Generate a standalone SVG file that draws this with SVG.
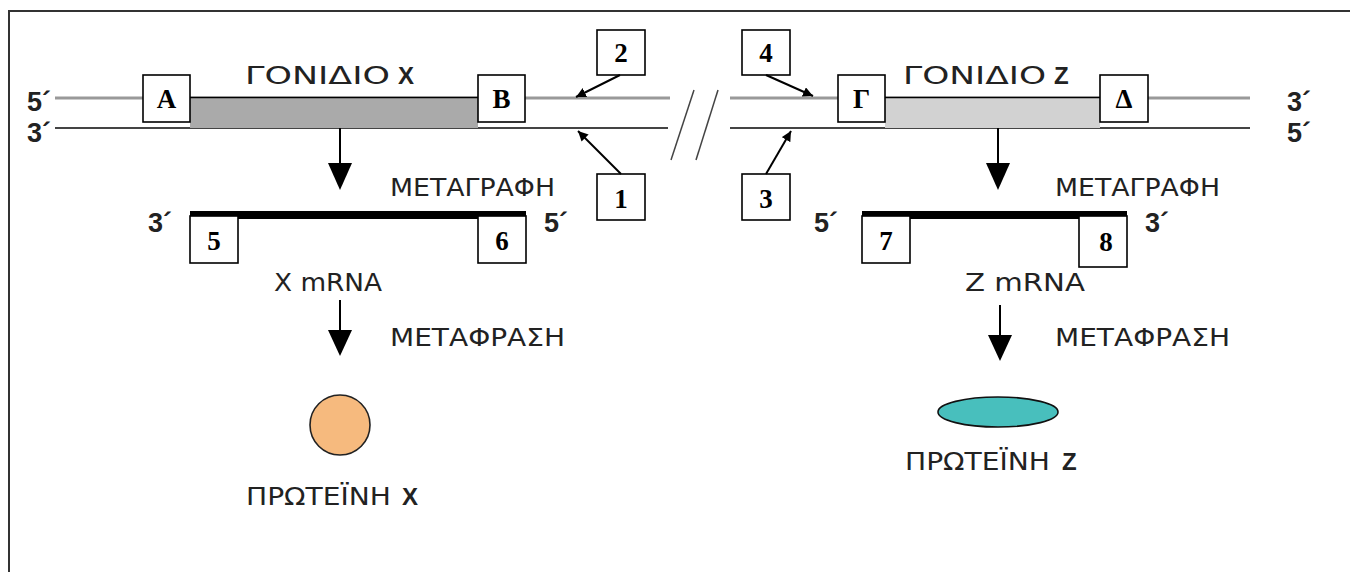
<svg xmlns="http://www.w3.org/2000/svg" width="1350" height="572" viewBox="0 0 1350 572">
  <defs>
    <marker id="tip" viewBox="0 0 10 10" refX="10" refY="5" markerWidth="10" markerHeight="10" markerUnits="userSpaceOnUse" orient="auto">
      <path d="M0,0 L10,5 L0,10 z" fill="#000"/>
    </marker>
  </defs>
  <style>
    .frame { fill: none; stroke: #333; stroke-width: 2; }
    .s5 { stroke: #999; stroke-width: 3; }
    .s3 { stroke: #444; stroke-width: 2; }
    .box { fill: #fff; stroke: #000; stroke-width: 1.6; }
    .lbl { font-family: "Liberation Serif", serif; font-weight: bold; font-size: 27px; fill: #000; text-anchor: middle; }
    .end { font-family: "Liberation Sans", sans-serif; font-weight: bold; font-size: 27px; fill: #222; }
    .gr { font-family: "DejaVu Sans", sans-serif; font-size: 24px; fill: #222; }
    .grb { font-family: "Liberation Sans", sans-serif; font-weight: bold; font-size: 24px; fill: #222; }
    .ptr { stroke: #000; stroke-width: 2; fill: none; marker-end: url(#tip); }
    .down { stroke: #000; stroke-width: 2; }
    .head { fill: #000; }
    .mrna { fill: #000; }
  </style>

  <!-- outer frame -->
  <path class="frame" d="M9,572 V11 H1350"/>

  <!-- left DNA segment: gene X -->
  <g id="dna-left">
    <line class="s5" x1="55" y1="98" x2="670" y2="98"/>
    <line class="s3" x1="55" y1="128" x2="668" y2="128"/>
    <text class="end" x="27" y="111">5´</text>
    <text class="end" x="27" y="142">3´</text>
  </g>
  <g id="gene-x">
    <rect x="190" y="98" width="288" height="30" fill="#aaa"/>
    <line x1="190" y1="97.5" x2="478" y2="97.5" stroke="#000" stroke-width="1.5"/>
    <text x="245" y="84" class="gr" font-size="25" textLength="145" lengthAdjust="spacingAndGlyphs">ΓΟΝΙΔΙΟ</text>
    <text x="398" y="84" class="grb">X</text>
  </g>
  <g id="box-A">
    <rect class="box" x="143" y="75" width="47" height="47"/>
    <text class="lbl" x="166.5" y="108">A</text>
  </g>
  <g id="box-B">
    <rect class="box" x="478" y="75" width="47" height="47"/>
    <text class="lbl" x="501.5" y="108">B</text>
  </g>
  <g id="box-2">
    <rect class="box" x="597" y="30" width="48" height="45"/>
    <text class="lbl" x="621" y="62">2</text>
  </g>
  <g id="box-1">
    <rect class="box" x="597" y="174" width="48" height="46"/>
    <text class="lbl" x="621" y="208">1</text>
  </g>

  <!-- break marks -->
  <g id="break">
    <line x1="694" y1="90" x2="671" y2="160" stroke="#444" stroke-width="1.5"/>
    <line x1="718" y1="90" x2="696" y2="160" stroke="#444" stroke-width="1.5"/>
  </g>

  <!-- right DNA segment: gene Z -->
  <g id="dna-right">
    <line class="s5" x1="730" y1="98" x2="1250" y2="98"/>
    <line class="s3" x1="730" y1="128" x2="1250" y2="128"/>
    <text class="end" x="1287" y="111">3´</text>
    <text class="end" x="1287" y="142">5´</text>
  </g>
  <g id="gene-z">
    <rect x="885" y="98" width="215" height="30" fill="#d2d2d2"/>
    <line x1="885" y1="97.5" x2="1100" y2="97.5" stroke="#000" stroke-width="1.5"/>
    <text x="903" y="84" class="gr" font-size="25" textLength="143" lengthAdjust="spacingAndGlyphs">ΓΟΝΙΔΙΟ</text>
    <text x="1054" y="84" class="grb">Z</text>
  </g>
  <g id="box-G">
    <rect class="box" x="838" y="75" width="47" height="47"/>
    <text class="lbl" x="861.5" y="108">Γ</text>
  </g>
  <g id="box-D">
    <rect class="box" x="1100" y="75" width="48" height="47"/>
    <text class="lbl" x="1124" y="108">Δ</text>
  </g>
  <g id="box-4">
    <rect class="box" x="742" y="30" width="48" height="45"/>
    <text class="lbl" x="766" y="62">4</text>
  </g>
  <g id="box-3">
    <rect class="box" x="742" y="174" width="48" height="46"/>
    <text class="lbl" x="766" y="208">3</text>
  </g>

  <!-- X mRNA -->
  <g id="mrna-x">
    <rect class="mrna" x="190" y="211" width="336" height="8"/>
    <text class="end" x="148" y="232">3´</text>
    <text class="end" x="544" y="232">5´</text>
    <text x="274" y="291" class="gr" font-size="26" textLength="108" lengthAdjust="spacingAndGlyphs">X mRNA</text>
  </g>
  <g id="box-5">
    <rect class="box" x="190" y="216" width="48" height="47"/>
    <text class="lbl" x="214" y="250">5</text>
  </g>
  <g id="box-6">
    <rect class="box" x="478" y="216" width="48" height="47"/>
    <text class="lbl" x="502" y="250">6</text>
  </g>

  <!-- Z mRNA -->
  <g id="mrna-z">
    <rect class="mrna" x="862" y="211" width="265" height="8"/>
    <text class="end" x="814" y="232">5´</text>
    <text class="end" x="1145" y="232">3´</text>
    <text x="965" y="291" class="gr" font-size="26" textLength="120" lengthAdjust="spacingAndGlyphs">Z mRNA</text>
  </g>
  <g id="box-7">
    <rect class="box" x="862" y="216" width="48" height="47"/>
    <text class="lbl" x="886" y="250">7</text>
  </g>
  <g id="box-8">
    <rect class="box" x="1079" y="216" width="48" height="51"/>
    <text class="lbl" x="1106" y="251">8</text>
  </g>

  <!-- process labels -->
  <g id="labels">
    <text x="390" y="196" class="gr" font-size="22" textLength="165" lengthAdjust="spacingAndGlyphs">ΜΕΤΑΓΡΑΦΗ</text>
    <text x="1055" y="196" class="gr" font-size="22" textLength="165" lengthAdjust="spacingAndGlyphs">ΜΕΤΑΓΡΑΦΗ</text>
    <text x="390" y="346" class="gr" font-size="22" textLength="175" lengthAdjust="spacingAndGlyphs">ΜΕΤΑΦΡΑΣΗ</text>
    <text x="1055" y="346" class="gr" font-size="22" textLength="175" lengthAdjust="spacingAndGlyphs">ΜΕΤΑΦΡΑΣΗ</text>
  </g>

  <!-- proteins -->
  <g id="protein-x">
    <circle cx="340" cy="425" r="30" fill="#f6ba7e" stroke="#222" stroke-width="1.6"/>
    <text x="246" y="505" class="gr" font-size="24" textLength="145" lengthAdjust="spacingAndGlyphs">ΠΡΩΤΕΪΝΗ</text>
    <text x="402" y="505" class="grb">X</text>
  </g>
  <g id="protein-z">
    <ellipse cx="998" cy="412" rx="60" ry="15" fill="#48bfbd" stroke="#111" stroke-width="1.6"/>
    <text x="905" y="470" class="gr" font-size="24" textLength="145" lengthAdjust="spacingAndGlyphs">ΠΡΩΤΕΪΝΗ</text>
    <text x="1062" y="470" class="grb">Z</text>
  </g>

  <!-- connectors -->
  <g id="connectors">
    <line class="ptr" x1="620" y1="75" x2="576" y2="97"/>
    <line class="ptr" x1="621" y1="174" x2="578" y2="131"/>
    <line class="ptr" x1="766" y1="75" x2="813" y2="96"/>
    <line class="ptr" x1="766" y1="174" x2="791" y2="131"/>

    <line class="down" x1="340" y1="128" x2="340" y2="170"/>
    <path class="head" d="M328,163 L352,163 L340,190 z"/>
    <line class="down" x1="998" y1="128" x2="998" y2="170"/>
    <path class="head" d="M986,163 L1010,163 L998,190 z"/>

    <line class="down" x1="340" y1="300" x2="340" y2="335"/>
    <path class="head" d="M328,330 L352,330 L340,356 z"/>
    <line class="down" x1="1000" y1="305" x2="1000" y2="340"/>
    <path class="head" d="M988,335 L1012,335 L1000,361 z"/>
  </g>
</svg>
